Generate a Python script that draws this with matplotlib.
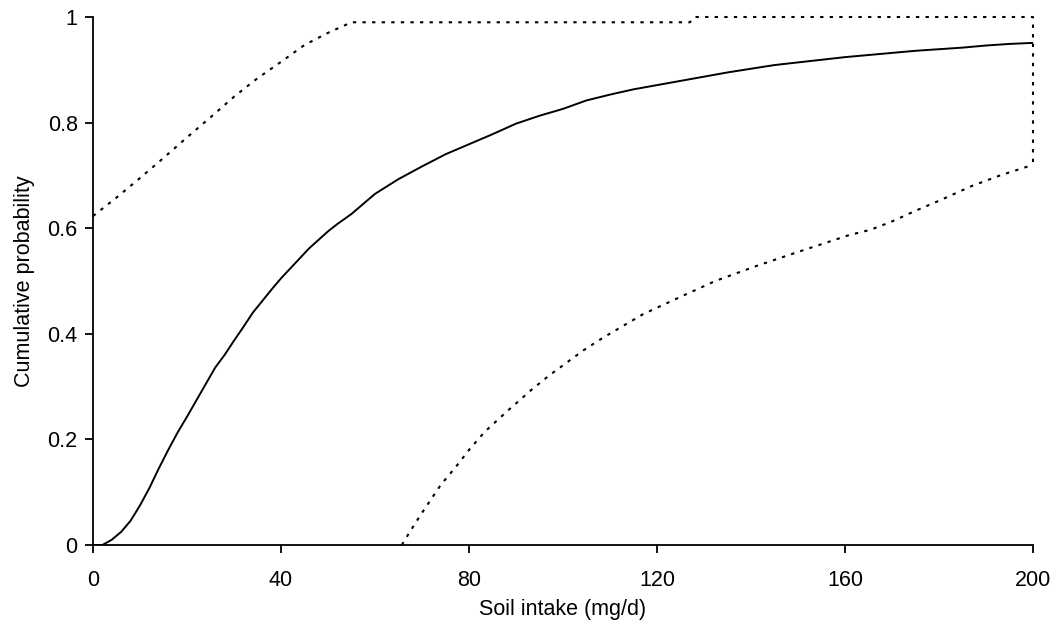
import numpy as np
import matplotlib.pyplot as plt

plt.rcParams['font.family'] = ['Liberation Sans', 'DejaVu Sans']

# 中央の累積分布（実線）
median_x = [0, 2, 4, 6, 8, 10, 12, 14, 16, 18, 20, 22, 24, 26, 28, 30, 32, 34, 36, 38,
            40, 42, 44, 46, 48, 50, 52, 55, 60, 65, 70, 75, 80, 85, 90, 95, 100, 105,
            110, 115, 120, 125, 130, 135, 140, 145, 150, 155, 160, 165, 170, 175, 180,
            185, 190, 195, 200]
median_y = [0.0, 0.0, 0.01, 0.025, 0.046, 0.075, 0.108, 0.145, 0.18, 0.213, 0.243, 0.274,
            0.305, 0.336, 0.36, 0.387, 0.413, 0.44, 0.462, 0.484, 0.505, 0.524, 0.543,
            0.562, 0.578, 0.594, 0.608, 0.627, 0.665, 0.693, 0.717, 0.74, 0.759, 0.778,
            0.798, 0.813, 0.826, 0.842, 0.853, 0.863, 0.871, 0.879, 0.887, 0.895, 0.902,
            0.909, 0.914, 0.919, 0.924, 0.928, 0.932, 0.936, 0.939, 0.942, 0.946, 0.949,
            0.951]

# 上側の信頼限界（点線）
upper_x = [0, 5, 10, 15, 20, 25, 30, 35, 40, 45, 50, 55, 127, 128, 200, 200]
upper_y = [0.623, 0.658, 0.695, 0.733, 0.772, 0.81, 0.849, 0.884, 0.915, 0.947, 0.97,
           0.99, 0.99, 1.0, 1.0, 0.72]

# 下側の信頼限界（点線）
lower_x = [65.7, 67, 69.7, 74, 77.2, 80, 83.3, 88.2, 93.3, 96.9, 104.4, 108.4, 117, 125,
           132.4, 141, 150, 160.9, 165.4, 169.8, 175, 180, 187, 193, 200]
lower_y = [0.0, 0.019, 0.057, 0.114, 0.148, 0.18, 0.214, 0.254, 0.294, 0.32, 0.369, 0.392,
           0.437, 0.47, 0.5, 0.528, 0.555, 0.587, 0.597, 0.612, 0.633, 0.652, 0.68, 0.70,
           0.72]

x_ticks = [0, 40, 80, 120, 160, 200]
y_ticks = [0, 0.2, 0.4, 0.6, 0.8, 1]
y_tick_labels = ["0", "0.2", "0.4", "0.6", "0.8", "1"]

fig = plt.figure(figsize=(10.62, 6.39), dpi=100)
ax = fig.add_axes([93 / 1062, 94 / 639, 940 / 1062, 528 / 639])

ax.plot(median_x, median_y, color="black", linewidth=1.4, solid_joinstyle="round")
ax.plot(upper_x, upper_y, color="black", linewidth=1.5, dashes=(1.6, 3.0), clip_on=False)
ax.plot(lower_x, lower_y, color="black", linewidth=1.5, dashes=(1.6, 3.0), clip_on=False)

ax.set_xlim(0, 200)
ax.set_ylim(0, 1)
ax.set_xticks(x_ticks)
ax.set_yticks(y_ticks)
ax.set_yticklabels(y_tick_labels)

for side in ["top", "right"]:
    ax.spines[side].set_visible(False)
for side in ["left", "bottom"]:
    ax.spines[side].set_linewidth(1.3)

ax.tick_params(axis="both", direction="out", length=6, width=1.3, labelsize=15.5)
ax.tick_params(axis="y", pad=5)
ax.tick_params(axis="x", pad=12)

ax.set_xlabel("Soil intake (mg/d)", fontsize=15.5, labelpad=6)
ax.set_ylabel("Cumulative probability", fontsize=15.5, labelpad=9)

plt.savefig("out.png", dpi=100)
